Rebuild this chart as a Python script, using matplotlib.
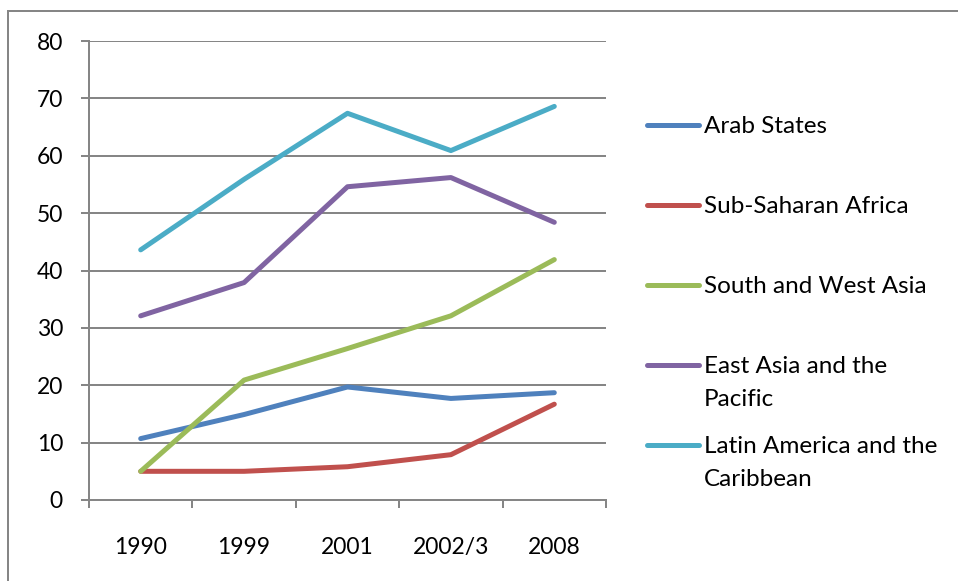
import matplotlib.pyplot as plt
from matplotlib.lines import Line2D
from matplotlib.patches import Rectangle

# enrolment figures by region
years = ['1990', '1999', '2001', '2002/3', '2008']
arab_states = [10.7, 14.9, 19.7, 17.7, 18.7]
sub_saharan = [5.0, 5.0, 5.8, 7.9, 16.7]
south_west_asia = [5.0, 20.9, 26.4, 32.1, 41.9]
east_asia_pacific = [32.1, 37.9, 54.6, 56.2, 48.4]
latin_america = [43.6, 55.9, 67.4, 60.9, 68.6]

labels = ['Arab States', 'Sub-Saharan Africa', 'South and West Asia',
          'East Asia and the\nPacific', 'Latin America and the\nCaribbean']
colors = ['#4F81BD', '#C0504D', '#9BBB59', '#8064A2', '#4BACC6']
series = [arab_states, sub_saharan, south_west_asia, east_asia_pacific, latin_america]

W, H = 958, 581
fig = plt.figure(figsize=(W / 100, H / 100), dpi=100)
plt.rcParams['font.family'] = ['Lato', 'DejaVu Sans']
px = 0.72  # one pixel in points

# plot area in pixels: x 89..606, y 41..500
ax = fig.add_axes([89 / W, 1 - 500 / H, (606 - 89) / W, (500 - 41) / H])
grid_col = '#868686'

x = list(range(len(years)))
for vals, c in zip(series, colors):
    ax.plot(x, vals, color=c, lw=5 * px, solid_capstyle='round', solid_joinstyle='round', zorder=3)

ax.set_xlim(-0.5, 4.5)
ax.set_ylim(0, 80)
ax.set_yticks(range(0, 81, 10))
ax.yaxis.grid(True, color=grid_col, lw=2 * px)
ax.set_axisbelow(True)
for s in ['top', 'right']:
    ax.spines[s].set_visible(False)
for s in ['left', 'bottom']:
    ax.spines[s].set_color(grid_col)
    ax.spines[s].set_linewidth(2 * px)

# category labels between boundary ticks
ax.set_xticks([i - 0.5 for i in range(len(years) + 1)])
ax.set_xticklabels([])
ax.set_xticks(x, minor=True)
ax.set_xticklabels(years, minor=True, fontsize=16.5)
ax.tick_params(axis='x', which='major', length=8 * px, width=2 * px, color=grid_col, direction='out')
ax.tick_params(axis='x', which='minor', length=0, pad=37 * px)
ax.tick_params(axis='y', length=8 * px, width=2 * px, color=grid_col, labelsize=16.5, pad=18 * px)

# legend on the right
legend_y = [125, 205, 285, 365, 445]
for lab, c, yy in zip(labels, colors, legend_y):
    fig.add_artist(Line2D([647 / W, 699 / W], [1 - yy / H, 1 - yy / H], color=c, lw=5 * px,
                          solid_capstyle='round'))
    fig.text(704 / W, 1 - (yy - 9) / H, lab, fontsize=17.5, va='top', ha='left',
             linespacing=1.68)

# chart frame
fig.add_artist(Rectangle((8 / W, -0.1), 1.2, 1 - 11 / H + 0.1, transform=fig.transFigure,
                         fill=False, edgecolor='#868686', lw=2 * px))

fig.savefig('out.png', dpi=100)
